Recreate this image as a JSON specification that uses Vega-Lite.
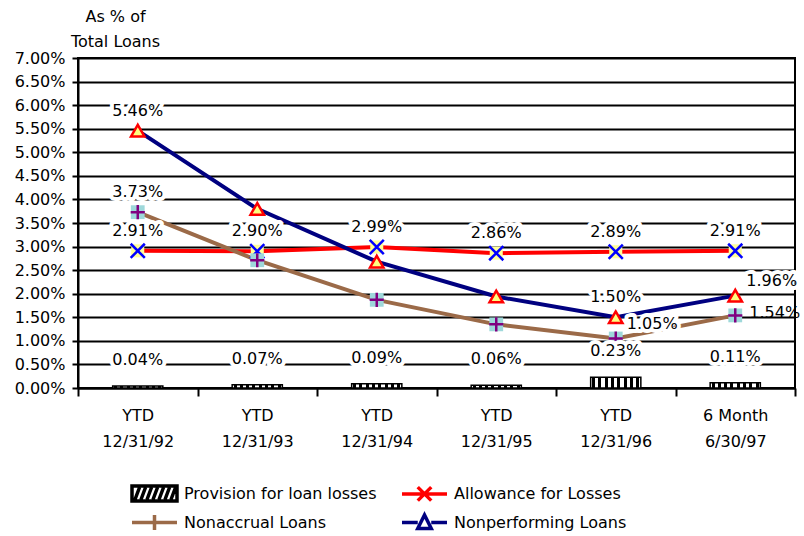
{
  "$schema": "https://vega.github.io/schema/vega-lite/v6.json",
  "width": 717,
  "height": 330,
  "autosize": {"type": "none"},
  "padding": {"left": 78, "top": 58, "right": 9, "bottom": 148},
  "config": {
    "font": "DejaVu Sans",
    "view": {"stroke": "black", "strokeWidth": 2},
    "text": {"font": "DejaVu Sans", "fontSize": 16, "fill": "black"}
  },
  "data": {
    "values": [
      {"period": "YTD|12/31/92", "series": "Provision for loan losses", "value": 0.0004},
      {"period": "YTD|12/31/93", "series": "Provision for loan losses", "value": 0.0007},
      {"period": "YTD|12/31/94", "series": "Provision for loan losses", "value": 0.0009},
      {"period": "YTD|12/31/95", "series": "Provision for loan losses", "value": 0.0006},
      {"period": "YTD|12/31/96", "series": "Provision for loan losses", "value": 0.0023},
      {"period": "6 Month|6/30/97", "series": "Provision for loan losses", "value": 0.0011},
      {"period": "YTD|12/31/92", "series": "Allowance for Losses", "value": 0.0291},
      {"period": "YTD|12/31/93", "series": "Allowance for Losses", "value": 0.0290},
      {"period": "YTD|12/31/94", "series": "Allowance for Losses", "value": 0.0299},
      {"period": "YTD|12/31/95", "series": "Allowance for Losses", "value": 0.0286},
      {"period": "YTD|12/31/96", "series": "Allowance for Losses", "value": 0.0289},
      {"period": "6 Month|6/30/97", "series": "Allowance for Losses", "value": 0.0291},
      {"period": "YTD|12/31/92", "series": "Nonaccrual Loans", "value": 0.0373},
      {"period": "YTD|12/31/93", "series": "Nonaccrual Loans", "value": 0.0271},
      {"period": "YTD|12/31/94", "series": "Nonaccrual Loans", "value": 0.0187},
      {"period": "YTD|12/31/95", "series": "Nonaccrual Loans", "value": 0.0135},
      {"period": "YTD|12/31/96", "series": "Nonaccrual Loans", "value": 0.0105},
      {"period": "6 Month|6/30/97", "series": "Nonaccrual Loans", "value": 0.0154},
      {"period": "YTD|12/31/92", "series": "Nonperforming Loans", "value": 0.0546},
      {"period": "YTD|12/31/93", "series": "Nonperforming Loans", "value": 0.0380},
      {"period": "YTD|12/31/94", "series": "Nonperforming Loans", "value": 0.0268},
      {"period": "YTD|12/31/95", "series": "Nonperforming Loans", "value": 0.0194},
      {"period": "YTD|12/31/96", "series": "Nonperforming Loans", "value": 0.0150},
      {"period": "6 Month|6/30/97", "series": "Nonperforming Loans", "value": 0.0196}
    ]
  },
  "encoding": {
    "x": {
      "field": "period", "type": "nominal",
      "scale": {"domain": ["YTD|12/31/92", "YTD|12/31/93", "YTD|12/31/94", "YTD|12/31/95", "YTD|12/31/96", "6 Month|6/30/97"], "paddingInner": 0, "paddingOuter": 0},
      "axis": {
        "title": null, "labelAngle": 0, "labelExpr": "split(datum.label, '|')",
        "labelFontSize": 16, "labelLineHeight": 26, "labelPadding": 11, "labelColor": "black",
        "domainColor": "black", "domainWidth": 2, "tickColor": "black", "tickWidth": 2, "tickSize": 8,
        "tickBand": "extent", "grid": false
      }
    },
    "y": {
      "field": "value", "type": "quantitative",
      "scale": {"domain": [0, 0.07], "nice": false},
      "axis": {
        "values": [0, 0.005, 0.01, 0.015, 0.02, 0.025, 0.03, 0.035, 0.04, 0.045, 0.05, 0.055, 0.06, 0.065, 0.07],
        "format": ".2%", "labelFontSize": 16, "labelColor": "black", "labelPadding": 7,
        "grid": true, "gridColor": "black", "gridWidth": 2, "gridOpacity": 1,
        "domainColor": "black", "domainWidth": 2, "tickColor": "black", "tickWidth": 2, "tickSize": 6,
        "title": ["As % of", "Total Loans"], "titleAngle": 0, "titleX": 37, "titleY": -42,
        "titleAlign": "center", "titleBaseline": "middle", "titleLineHeight": 25,
        "titleFontSize": 16, "titleFontWeight": "normal", "titleColor": "black"
      }
    }
  },
  "layer": [
    {
      "transform": [{"filter": "datum.series === 'Provision for loan losses'"}],
      "mark": {
        "type": "bar", "width": {"band": 0.42}, "stroke": "black", "strokeWidth": 1.5,
        "fill": {"gradient": "linear", "x1": 0, "y1": 0, "x2": 1, "y2": 0, "stops": [
          {"offset": 0, "color": "#fff"}, {"offset": 0.03, "color": "#fff"}, {"offset": 0.03, "color": "#000"}, {"offset": 0.09, "color": "#000"},
          {"offset": 0.09, "color": "#fff"}, {"offset": 0.155, "color": "#fff"}, {"offset": 0.155, "color": "#000"}, {"offset": 0.215, "color": "#000"},
          {"offset": 0.215, "color": "#fff"}, {"offset": 0.28, "color": "#fff"}, {"offset": 0.28, "color": "#000"}, {"offset": 0.34, "color": "#000"},
          {"offset": 0.34, "color": "#fff"}, {"offset": 0.405, "color": "#fff"}, {"offset": 0.405, "color": "#000"}, {"offset": 0.465, "color": "#000"},
          {"offset": 0.465, "color": "#fff"}, {"offset": 0.53, "color": "#fff"}, {"offset": 0.53, "color": "#000"}, {"offset": 0.59, "color": "#000"},
          {"offset": 0.59, "color": "#fff"}, {"offset": 0.655, "color": "#fff"}, {"offset": 0.655, "color": "#000"}, {"offset": 0.715, "color": "#000"},
          {"offset": 0.715, "color": "#fff"}, {"offset": 0.78, "color": "#fff"}, {"offset": 0.78, "color": "#000"}, {"offset": 0.84, "color": "#000"},
          {"offset": 0.84, "color": "#fff"}, {"offset": 0.905, "color": "#fff"}, {"offset": 0.905, "color": "#000"}, {"offset": 0.965, "color": "#000"},
          {"offset": 0.965, "color": "#fff"}, {"offset": 1, "color": "#fff"}
        ]}
      }
    },
    {
      "transform": [{"filter": "datum.series !== 'Provision for loan losses'"}],
      "mark": {"type": "line", "strokeWidth": 4},
      "encoding": {
        "color": {
          "field": "series", "type": "nominal",
          "scale": {"domain": ["Provision for loan losses", "Allowance for Losses", "Nonaccrual Loans", "Nonperforming Loans"], "range": ["#000000", "#FF0000", "#9B6A48", "#000080"]}
        }
      }
    },
    {
      "transform": [{"filter": "datum.series === 'Allowance for Losses'"}],
      "mark": {"type": "point", "shape": "square", "filled": true, "fill": "#FFFF99", "opacity": 1, "size": 170, "strokeWidth": 0}
    },
    {
      "transform": [{"filter": "datum.series === 'Allowance for Losses'"}],
      "mark": {"type": "point", "shape": "M-1,-1L1,1M-1,1L1,-1", "filled": false, "stroke": "#0000FF", "opacity": 1, "size": 200, "strokeWidth": 2.5}
    },
    {
      "transform": [{"filter": "datum.series === 'Nonaccrual Loans'"}],
      "mark": {"type": "point", "shape": "square", "filled": true, "fill": "#9ED8DA", "opacity": 1, "size": 190, "strokeWidth": 0}
    },
    {
      "transform": [{"filter": "datum.series === 'Nonaccrual Loans'"}],
      "mark": {"type": "point", "shape": "M-1,0H1M0,-1V1", "filled": false, "stroke": "#800080", "opacity": 1, "size": 200, "strokeWidth": 2.5}
    },
    {
      "transform": [{"filter": "datum.series === 'Nonperforming Loans'"}],
      "mark": {"type": "point", "shape": "triangle-up", "filled": true, "fill": "#FFFF80", "stroke": "#FF0000", "strokeWidth": 2.5, "opacity": 1, "size": 180}
    },
    {
      "transform": [{"filter": "datum.period === 'YTD|12/31/92'"}],
      "mark": {"type": "point", "opacity": 0, "filled": false},
      "encoding": {
        "color": {
          "field": "series", "type": "nominal",
          "scale": {"domain": ["Provision for loan losses", "Allowance for Losses", "Nonaccrual Loans", "Nonperforming Loans"], "range": ["#000000", "#FF0000", "#9B6A48", "#000080"]},
          "legend": {
            "title": null, "orient": "none", "legendX": 52, "legendY": 426, "columns": 2, "direction": "horizontal",
            "columnPadding": 18, "rowPadding": 0, "labelFontSize": 16, "labelColor": "black",
            "labelOffset": 35, "labelLimit": 400, "symbolSize": 225, "symbolStrokeWidth": 3.5,
            "symbolOpacity": 1,
            "encode": {"symbols": {"update": {"fill": {"signal": "datum.value === 'Provision for loan losses' ? 'white' : (datum.value === 'Nonperforming Loans' ? '#FFFF80' : 'transparent')"}, "fillOpacity": {"value": 1}}}}
          }
        },
        "shape": {
          "field": "series", "type": "nominal",
          "scale": {"domain": ["Provision for loan losses", "Allowance for Losses", "Nonaccrual Loans", "Nonperforming Loans"], "range": [
            "M-1,-1H5V1H-1ZM-0.6,0.8L0,-0.8M0.2,0.8L0.8,-0.8M1,0.8L1.6,-0.8M1.8,0.8L2.4,-0.8M2.6,0.8L3.2,-0.8M3.4,0.8L4,-0.8M4.2,0.8L4.8,-0.8",
            "M-1,0H5M1.1,-0.9L2.9,0.9M1.1,0.9L2.9,-0.9",
            "M-1,0H5M2,-1V1",
            "M-1,0H1.1M2.9,0H5M1.1,0.8L2,-1L2.9,0.8Z"
          ]}
        }
      }
    },
    {
      "transform": [{"filter": "datum.series === 'Provision for loan losses'"}],
      "mark": {"type": "text", "dy": -26, "stroke": "white", "strokeWidth": 8, "fill": "white", "strokeJoin": "round"},
      "encoding": {"text": {"field": "value", "type": "quantitative", "format": ".2%"}}
    },
    {
      "transform": [{"filter": "datum.series === 'Provision for loan losses'"}],
      "mark": {"type": "text", "dy": -26},
      "encoding": {"text": {"field": "value", "type": "quantitative", "format": ".2%"}}
    },
    {
      "transform": [{"filter": "datum.series === 'Allowance for Losses' || (datum.series === 'Nonaccrual Loans' && datum.period === 'YTD|12/31/92') || (datum.series === 'Nonperforming Loans' && (datum.period === 'YTD|12/31/92' || datum.period === 'YTD|12/31/96'))"}],
      "mark": {"type": "text", "dy": -20, "stroke": "white", "strokeWidth": 8, "fill": "white", "strokeJoin": "round"},
      "encoding": {"text": {"field": "value", "type": "quantitative", "format": ".2%"}}
    },
    {
      "transform": [{"filter": "datum.series === 'Allowance for Losses' || (datum.series === 'Nonaccrual Loans' && datum.period === 'YTD|12/31/92') || (datum.series === 'Nonperforming Loans' && (datum.period === 'YTD|12/31/92' || datum.period === 'YTD|12/31/96'))"}],
      "mark": {"type": "text", "dy": -20},
      "encoding": {"text": {"field": "value", "type": "quantitative", "format": ".2%"}}
    },
    {
      "transform": [{"filter": "(datum.series === 'Nonaccrual Loans' && datum.period === 'YTD|12/31/96') || (datum.series === 'Nonperforming Loans' && datum.period === '6 Month|6/30/97')"}],
      "mark": {"type": "text", "align": "left", "dx": 11, "dy": -15, "stroke": "white", "strokeWidth": 8, "fill": "white", "strokeJoin": "round"},
      "encoding": {"text": {"field": "value", "type": "quantitative", "format": ".2%"}}
    },
    {
      "transform": [{"filter": "(datum.series === 'Nonaccrual Loans' && datum.period === 'YTD|12/31/96') || (datum.series === 'Nonperforming Loans' && datum.period === '6 Month|6/30/97')"}],
      "mark": {"type": "text", "align": "left", "dx": 11, "dy": -15},
      "encoding": {"text": {"field": "value", "type": "quantitative", "format": ".2%"}}
    },
    {
      "transform": [{"filter": "datum.series === 'Nonaccrual Loans' && datum.period === '6 Month|6/30/97'"}],
      "mark": {"type": "text", "align": "left", "dx": 14, "dy": -2},
      "encoding": {"text": {"field": "value", "type": "quantitative", "format": ".2%"}}
    }
  ]
}
